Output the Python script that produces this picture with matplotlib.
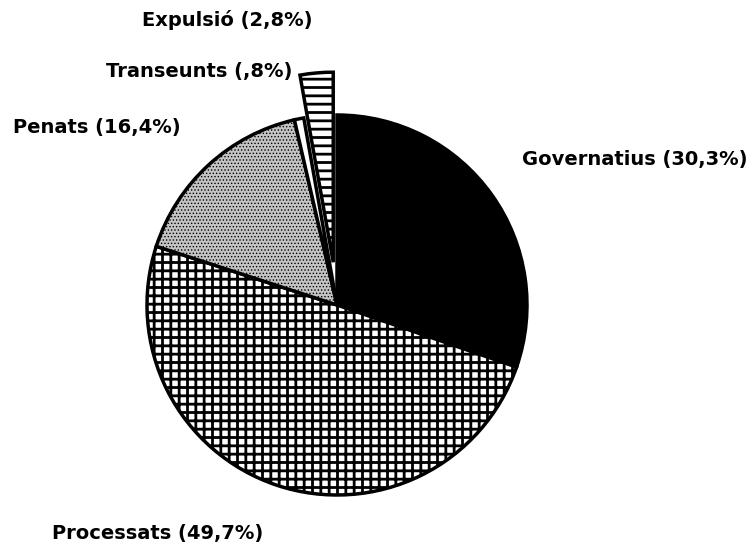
import matplotlib
matplotlib.use("Agg")
import matplotlib.pyplot as plt

# slice shares, clockwise from 12 o'clock
categories = ["Governatius", "Processats", "Penats", "Transeunts", "Expulsió"]
shares = [30.3, 49.7, 16.4, 0.8, 2.8]
explode = [0, 0, 0, 0, 0.226]   # as a fraction of the radius


def pct(v):
    # 0.8 -> ",8"  /  30.3 -> "30,3"
    return f"{v:.1f}".lstrip("0").replace(".", ",")


labels = [f"{c} ({pct(v)}%)" for c, v in zip(categories, shares)]

plt.rcParams["font.family"] = ["DejaVu Sans"]
plt.rcParams["hatch.linewidth"] = 2.0
plt.rcParams["hatch.color"] = "black"

W, H = 750, 547
R = 190
fig = plt.figure(figsize=(W / 100, H / 100), dpi=100)
ax = fig.add_axes([0, 0, 1, 1])

# pie offsets are in data units, so scale by the radius
wedges, _ = ax.pie(shares, explode=[e * R for e in explode],
                   center=(337, H - 305), radius=R,
                   startangle=90, counterclock=False,
                   wedgeprops=dict(edgecolor="black", linewidth=2.5),
                   frame=True)
ax.set_xlim(0, W)
ax.set_ylim(0, H)
ax.axis("off")

styles = [
    dict(facecolor="black", hatch=None),
    dict(facecolor="white", hatch="++"),
    dict(facecolor="#c4c4c4", hatch="....."),
    dict(facecolor="white", hatch=None),
    dict(facecolor="white", hatch="--"),
]
for w, st in zip(wedges, styles):
    w.set_facecolor(st["facecolor"])
    if st["hatch"]:
        w.set_hatch(st["hatch"])

if hasattr(wedges[2], "set_hatch_linewidth"):
    wedges[2].set_hatch_linewidth(0.6)

# label anchors: left edge x, vertical centre y (pixels from top)
label_pos = {
    "Governatius": (522, 160),
    "Processats": (52, 533),
    "Penats": (13, 128),
    "Transeunts": (106, 72),
    "Expulsió": (142, 20),
}
for c, lab in zip(categories, labels):
    x, y = label_pos[c]
    ax.text(x, H - y, lab, fontsize=14, fontweight="bold",
            ha="left", va="center")

fig.savefig("out.png", dpi=100)
